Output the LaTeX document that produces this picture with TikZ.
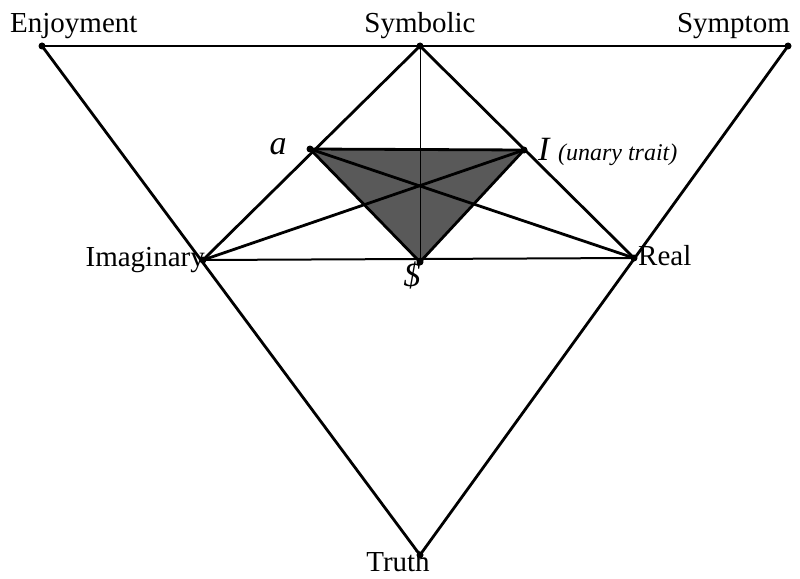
\documentclass[tikz,border=0pt]{standalone}
\usepackage{fontspec}
\setmainfont{Liberation Serif}
\usetikzlibrary{positioning,calc}

\begin{document}
\begin{tikzpicture}[x=1pt,y=-1pt,
  edge/.style={line width=2.8pt,line cap=round,line join=round},
  thinedge/.style={line width=0.9pt},
  shade/.style={fill=black!65},
  lbl/.style={font=\fontsize{29}{31}\selectfont,inner sep=0pt},
  hand/.style={font=\itshape\fontsize{34}{36}\selectfont,inner sep=0pt}]
  \useasboundingbox (0,0) rectangle (800,578);
  % corner points
  \coordinate (enj) at (42,46);
  \coordinate (sym) at (420,46);
  \coordinate (symp) at (788,46);
  \coordinate (imag) at (203,260);
  \coordinate (real) at (634,258);
  \coordinate (truth) at (420,555);
  \coordinate (a) at (310,149);
  \coordinate (unary) at (524,150);
  \coordinate (bar) at (420,262);
  % shaded triangle
  \fill[shade] (a) -- (unary) -- (bar) -- cycle;
  \draw[thinedge] (sym) -- (bar);
  \draw[edge] (enj) -- (symp);
  \draw[edge] (enj) -- (truth) -- (symp);
  \draw[edge] (imag) -- (sym) -- (real);
  \draw[edge,line width=2pt] (imag) -- (real);
  \draw[edge] (imag) -- (unary);
  \draw[edge] (real) -- (a);
  \draw[edge] (a) -- (unary) -- (bar) -- cycle;
  \foreach \p in {enj,sym,symp,imag,real,truth,a,unary,bar}
    \fill (\p) circle (3.5pt);
  % labels
  \node[lbl,anchor=base west] (enjl) at (10,33) {Enjoyment};
  \node[lbl,anchor=base] (syml) at (420,33) {Symbolic};
  \node[lbl,anchor=base east] (sympl) at (790,33) {Symptom};
  \node[lbl,anchor=base east] (imagl) at (205,266) {Imaginary};
  \node[lbl,anchor=base west] (reall) at (638,265) {Real};
  \node[lbl,anchor=base] (truthl) at (398,571) {Truth};
  \node[hand,anchor=base] (al) at (278,154) {a};
  \node[hand,anchor=base west] (unaryl) at (538,160) {I {\fontsize{24}{26}\selectfont(unary trait)}};
  \node[hand,anchor=base] (barl) at (412,286) {\$};
\end{tikzpicture}
\end{document}
